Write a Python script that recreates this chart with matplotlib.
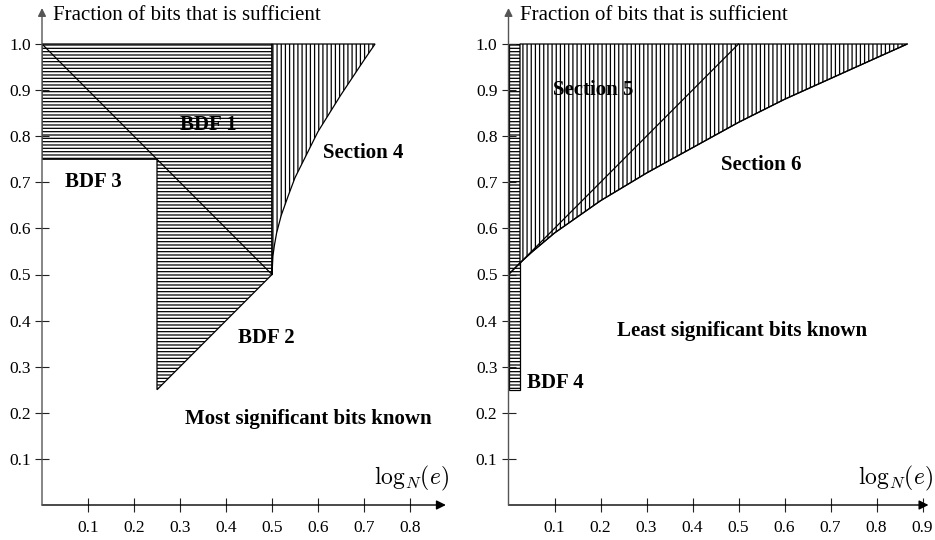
import matplotlib
matplotlib.use("Agg")
import matplotlib.pyplot as plt
from matplotlib.patches import Polygon

plt.rcParams['font.family'] = ['Liberation Serif', 'DejaVu Serif']
plt.rcParams['mathtext.fontset'] = 'cm'
plt.rcParams['hatch.linewidth'] = 0.9

# ---------------- data ----------------
y_ticks = [0.1, 0.2, 0.3, 0.4, 0.5, 0.6, 0.7, 0.8, 0.9, 1.0]
left_x_ticks = [0.1, 0.2, 0.3, 0.4, 0.5, 0.6, 0.7, 0.8]
right_x_ticks = [0.1, 0.2, 0.3, 0.4, 0.5, 0.6, 0.7, 0.8, 0.9]

# Left panel (MSBs known)
bdf1_x = [0.0, 0.5, 0.5, 0.25, 0.25, 0.0]
bdf1_y = [1.0, 1.0, 0.5, 0.25, 0.75, 0.75]
bdf_diag_x = [0.0, 0.5]
bdf_diag_y = [1.0, 0.5]
sec4_x = [0.5, 0.502, 0.505, 0.51, 0.52, 0.535, 0.55, 0.575, 0.6, 0.65, 0.7, 0.724]
sec4_y = [0.5, 0.54, 0.562, 0.59, 0.628, 0.67, 0.71, 0.76, 0.81, 0.89, 0.965, 1.0]

# Right panel (LSBs known)
bdf4_x = [0.0, 0.025]
bdf4_y = [0.25, 1.0]
sec6_x = [0.0, 0.025, 0.05, 0.1, 0.2, 0.3, 0.4, 0.5, 0.6, 0.7, 0.8, 0.867]
sec6_y = [0.5, 0.525, 0.548, 0.59, 0.66, 0.72, 0.775, 0.83, 0.88, 0.925, 0.97, 1.0]
sec5_diag_x = [0.0, 0.5]
sec5_diag_y = [0.5, 1.0]

ylabel_text = "Fraction of bits that is sufficient"
xlabel_text = r"$\log_N\!(e)$"

W, H = 935, 540
fig = plt.figure(figsize=(W / 100, H / 100), dpi=100)

PX = 460.0  # pixels per data unit (x)
PY = 461.0  # pixels per data unit (y)
Y0 = 505.0  # pixel row of y=0 (from top)


def make_axes(x0px, xmax, ymax=1.08):
    w = xmax * PX
    h = ymax * PY
    ax = fig.add_axes([x0px / W, (H - Y0) / H, w / W, h / H])
    ax.set_xlim(0, xmax)
    ax.set_ylim(0, ymax)
    for s in ax.spines.values():
        s.set_visible(False)
    ax.patch.set_alpha(0)
    ax.tick_params(direction='inout', length=10, width=0.8, color='#222222',
                   labelsize=12.5)
    ax.tick_params(axis='x', pad=6)
    ax.tick_params(axis='y', pad=3)
    ax.annotate('', xy=(xmax - 0.002, 0), xytext=(0, 0),
                arrowprops=dict(arrowstyle='-|>', color='black', lw=1.0,
                                mutation_scale=14, shrinkA=0, shrinkB=0),
                annotation_clip=False)
    ax.annotate('', xy=(0, ymax - 0.002), xytext=(0, 0),
                arrowprops=dict(arrowstyle='-|>', color='#555555', lw=1.0,
                                mutation_scale=12, shrinkA=0, shrinkB=0),
                annotation_clip=False)
    ax.set_yticks(y_ticks)
    ax.set_yticklabels([f"{v:.1f}" for v in y_ticks])
    return ax


# ---------------- left panel ----------------
axL = make_axes(42.0, 0.88)
axL.set_xticks(left_x_ticks)
axL.set_xticklabels([f"{v:.1f}" for v in left_x_ticks])

axL.add_patch(Polygon(list(zip(bdf1_x, bdf1_y)), closed=True, facecolor='white',
                      edgecolor='black', hatch='-----', lw=0.9))
sec4_poly = list(zip(sec4_x, sec4_y)) + [(sec4_x[0], sec4_y[-1])]
axL.add_patch(Polygon(sec4_poly, closed=True, facecolor='white',
                      edgecolor='black', hatch='||||', lw=0.9))
axL.plot(bdf_diag_x, bdf_diag_y, color='black', lw=0.9)

bold = dict(fontsize=15, fontweight='bold', ha='center', va='center')
axL.text(0.361, 0.824, "BDF 1", **bold)
axL.text(0.112, 0.701, "BDF 3", **bold)
axL.text(0.699, 0.763, "Section 4", **bold)
axL.text(0.488, 0.362, "BDF 2", **bold)
axL.text(0.578, 0.187, "Most significant bits known", **bold)

# ---------------- right panel ----------------
axR = make_axes(508.5, 0.915)
axR.set_xticks(right_x_ticks)
axR.set_xticklabels([f"{v:.1f}" for v in right_x_ticks])

axR.add_patch(Polygon([(bdf4_x[0], bdf4_y[0]), (bdf4_x[1], bdf4_y[0]),
                       (bdf4_x[1], bdf4_y[1]), (bdf4_x[0], bdf4_y[1])],
                      closed=True, facecolor='white', edgecolor='black',
                      hatch='-----', lw=0.9))
sec56 = [(x, y) for x, y in zip(sec6_x, sec6_y) if x >= bdf4_x[1]]
sec56 = sec56 + [(bdf4_x[1], 1.0)]
axR.add_patch(Polygon(sec56, closed=True, facecolor='white', edgecolor='black',
                      hatch='||||', lw=0.9))
axR.plot(sec6_x, sec6_y, color='black', lw=0.9)
axR.plot(sec5_diag_x, sec5_diag_y, color='black', lw=0.9)

axR.text(0.097, 0.90, "Section 5", fontsize=15, fontweight='bold', ha='left', va='center')
axR.text(0.55, 0.737, "Section 6", **bold)
axR.text(0.507, 0.377, "Least significant bits known", **bold)
axR.text(0.0395, 0.264, "BDF 4", fontsize=15, fontweight='bold', ha='left', va='center')

# ---------------- axis labels ----------------
fig.text(53 / W, 1 - 15 / H, ylabel_text, fontsize=15, ha='left', va='center')
fig.text(520 / W, 1 - 15 / H, ylabel_text, fontsize=15, ha='left', va='center')
fig.text(449 / W, 1 - 478 / H, xlabel_text, fontsize=17, ha='right', va='center')
fig.text(933 / W, 1 - 478 / H, xlabel_text, fontsize=17, ha='right', va='center')

fig.savefig("out.png", dpi=100)
